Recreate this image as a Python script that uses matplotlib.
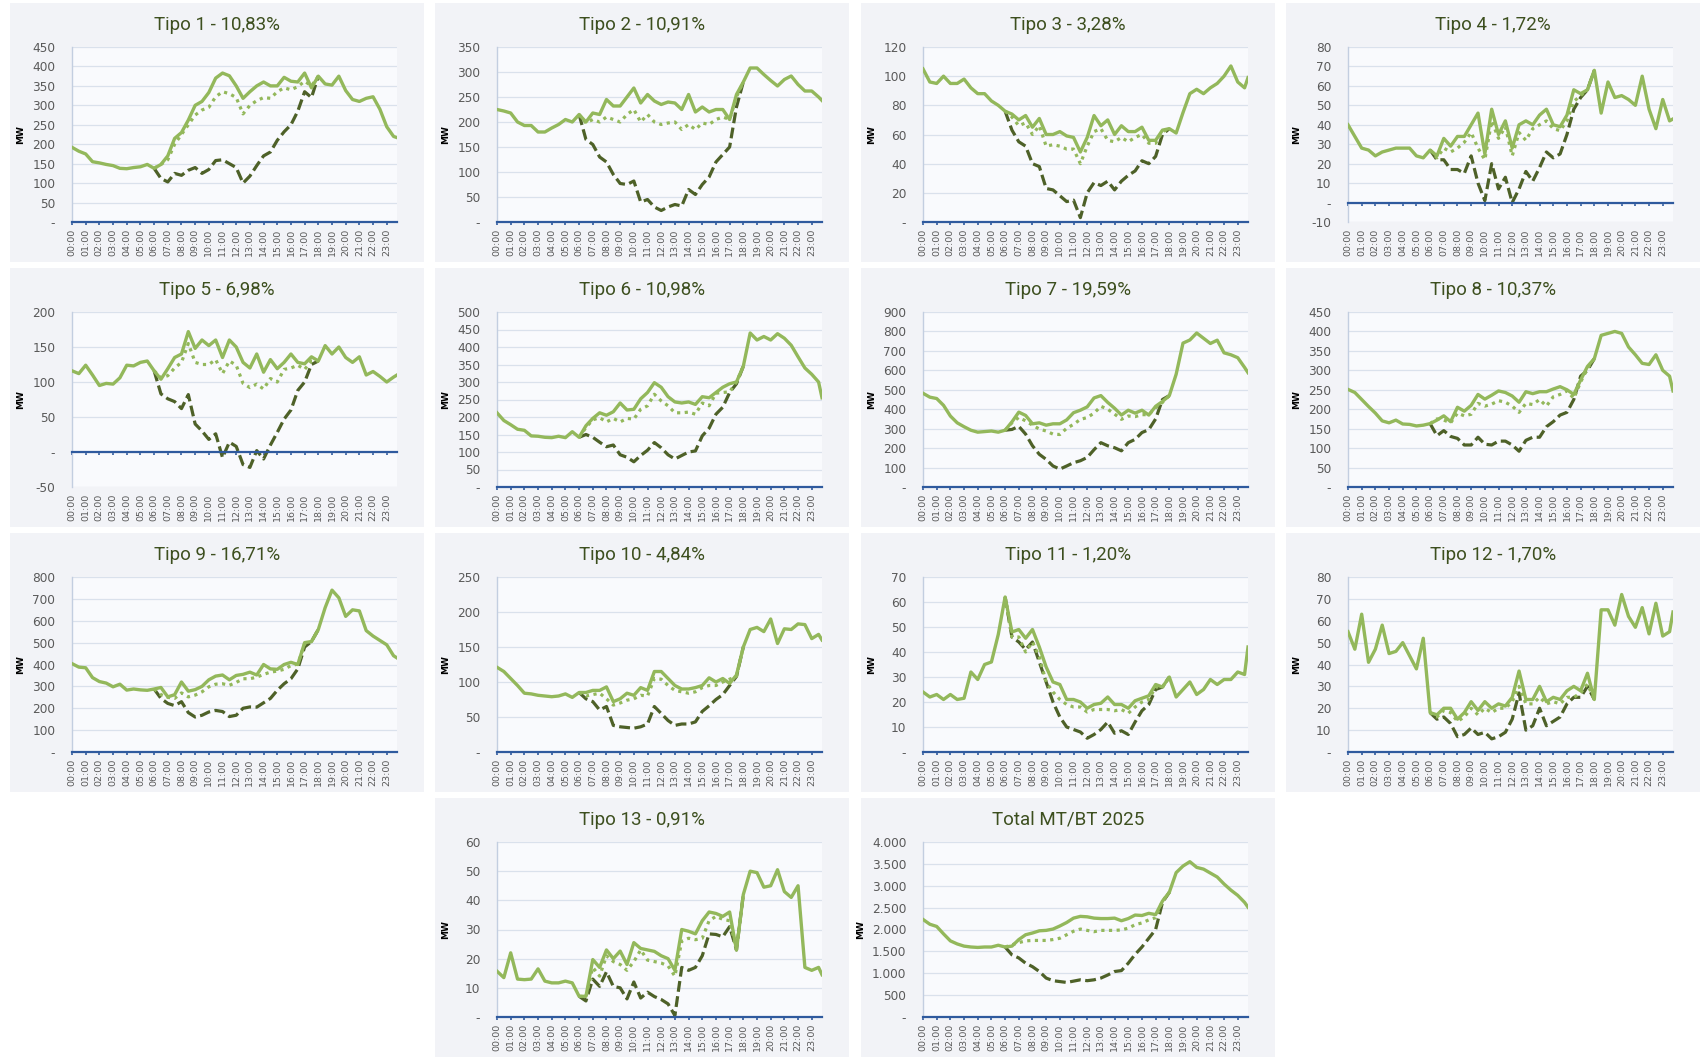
import numpy as np
import matplotlib
matplotlib.use('Agg')
from matplotlib import pyplot as plt
from matplotlib.patches import Rectangle
from matplotlib.ticker import FuncFormatter

plt.rcParams['font.family'] = ['DejaVu Sans']

# half-hour samples plus the last 23:45 point (hours)
hours = np.append(np.arange(0, 24, 0.5), 23.75)
# window where the three scenarios differ: 06:00 .. 18:00
day_hours = np.arange(6, 18.25, 0.5)
tick_hours = np.arange(24)
tick_labels = [f'{h:02d}:00' for h in tick_hours]

titles = [
    'Tipo 1 - 10,83%', 'Tipo 2 - 10,91%', 'Tipo 3 - 3,28%', 'Tipo 4 - 1,72%',
    'Tipo 5 - 6,98%', 'Tipo 6 - 10,98%', 'Tipo 7 - 19,59%', 'Tipo 8 - 10,37%',
    'Tipo 9 - 16,71%', 'Tipo 10 - 4,84%', 'Tipo 11 - 1,20%', 'Tipo 12 - 1,70%',
    'Tipo 13 - 0,91%', 'Total MT/BT 2025',
]
# (min, max, step) of each y axis
y_axes = [
    (0, 450, 50), (0, 350, 50), (0, 120, 20), (-10, 80, 10),
    (-50, 200, 50), (0, 500, 50), (0, 900, 100), (0, 450, 50),
    (0, 800, 100), (0, 250, 50), (0, 70, 10), (0, 80, 10),
    (0, 60, 10), (0, 4000, 500),
]

# full day curves (49 values) and daytime scenarios (25 values, 06:00-18:00)
t1_line = [192, 182, 175, 155, 152, 148, 145, 138, 137, 140, 142, 148,
           138, 148, 170, 215, 230, 262, 300, 310, 333, 370, 383, 376,
           350, 318, 335, 350, 360, 350, 350, 372, 362, 360, 383, 345,
           375, 355, 352, 375, 338, 315, 310, 318, 322, 290, 245, 220, 217]
t1_dot = [138, 148, 160, 200, 225, 250, 275, 288, 295, 322, 335, 330, 320,
          278, 300, 312, 320, 318, 335, 345, 340, 348, 362, 350, 375]
t1_dash = [138, 112, 103, 125, 120, 133, 140, 125, 135, 158, 160, 150, 140,
           100, 118, 145, 170, 180, 210, 232, 250, 285, 335, 320, 375]

t2_line = [225, 222, 218, 200, 193, 193, 180, 180, 188, 195, 205, 200,
           215, 200, 218, 215, 245, 232, 232, 250, 268, 238, 255, 242,
           235, 240, 238, 225, 255, 220, 230, 220, 225, 225, 205, 255,
           280, 308, 308, 295, 283, 272, 285, 292, 275, 262, 262, 250, 243]
t2_dot = [215, 198, 205, 200, 210, 205, 200, 215, 225, 200, 215, 200, 195,
          198, 200, 185, 195, 185, 198, 195, 205, 210, 205, 250, 280]
t2_dash = [215, 165, 155, 130, 120, 95, 77, 75, 82, 40, 45, 30, 23,
           30, 35, 32, 65, 55, 75, 90, 120, 135, 150, 230, 280]

t3_line = [105, 96, 95, 100, 95, 95, 98, 92, 88, 88, 83, 80,
           76, 74, 70, 73, 65, 71, 60, 60, 62, 59, 58, 48,
           58, 73, 66, 70, 60, 66, 62, 62, 65, 56, 56, 63,
           64, 61, 75, 88, 91, 88, 92, 95, 100, 107, 96, 92, 99]
t3_dot = [76, 72, 66, 68, 60, 66, 52, 53, 52, 50, 50, 40, 52,
          62, 64, 56, 55, 58, 55, 58, 60, 54, 54, 62, 64]
t3_dash = [76, 63, 55, 52, 40, 38, 23, 22, 18, 14, 15, 3, 20,
           27, 25, 28, 22, 28, 32, 35, 42, 40, 45, 60, 64]

t4_line = [40, 34, 28, 27, 24, 26, 27, 28, 28, 28, 24, 23,
           27, 24, 33, 29, 34, 34, 40, 46, 25, 48, 35, 42,
           28, 40, 42, 40, 45, 48, 40, 39, 45, 58, 56, 58,
           68, 46, 62, 54, 55, 53, 50, 65, 48, 38, 53, 42, 43]
t4_dot = [27, 23, 28, 26, 28, 31, 36, 28, 22, 42, 33, 39, 24,
          36, 32, 38, 40, 42, 38, 37, 42, 52, 55, 58, 68]
t4_dash = [27, 22, 22, 17, 17, 15, 24, 10, 1, 20, 7, 13, 0,
           7, 16, 11, 18, 26, 23, 25, 35, 48, 54, 58, 68]

t5_line = [116, 112, 124, 110, 95, 98, 97, 106, 124, 123, 128, 130,
           116, 104, 119, 135, 140, 172, 148, 160, 152, 160, 135, 160,
           150, 128, 120, 140, 114, 132, 119, 128, 140, 128, 126, 136,
           130, 152, 140, 150, 135, 128, 136, 110, 115, 108, 100, 107, 110]
t5_dot = [116, 106, 109, 120, 128, 155, 128, 125, 125, 132, 112, 130, 124,
          98, 92, 97, 90, 105, 100, 118, 120, 124, 118, 130, 130]
t5_dash = [116, 83, 76, 72, 62, 82, 40, 30, 18, 26, -8, 14, 8,
           -18, -22, 2, -10, 10, 28, 47, 60, 88, 100, 125, 130]

t6_line = [212, 190, 178, 165, 162, 146, 145, 142, 141, 145, 141, 158,
           142, 175, 196, 212, 205, 215, 240, 220, 222, 252, 270, 298,
           285, 258, 243, 240, 243, 236, 258, 255, 270, 285, 295, 300,
           345, 440, 420, 430, 420, 438, 425, 405, 372, 340, 322, 300, 255]
t6_dot = [142, 170, 192, 198, 186, 196, 186, 196, 194, 222, 232, 265, 246,
          232, 212, 212, 214, 208, 240, 232, 268, 270, 272, 300, 345]
t6_dash = [142, 150, 142, 128, 115, 120, 92, 85, 72, 90, 105, 127, 112,
           92, 80, 90, 100, 103, 146, 168, 208, 228, 270, 295, 345]

t7_line = [482, 462, 455, 420, 365, 330, 310, 292, 282, 285, 288, 282,
           292, 335, 385, 368, 325, 330, 318, 325, 325, 345, 382, 395,
           412, 458, 470, 435, 405, 370, 395, 380, 395, 370, 415, 440,
           470, 580, 740, 756, 792, 765, 738, 755, 690, 680, 665, 615, 588]
t7_dot = [292, 330, 358, 340, 318, 298, 288, 272, 270, 302, 322, 348, 357,
          380, 415, 400, 375, 348, 365, 362, 372, 372, 408, 435, 470]
t7_dash = [292, 296, 312, 272, 212, 168, 142, 108, 92, 108, 125, 135, 152,
           192, 228, 212, 202, 186, 228, 245, 280, 295, 350, 450, 470]

t8_line = [251, 243, 225, 207, 190, 170, 165, 172, 162, 161, 157, 159,
           163, 172, 183, 168, 205, 195, 210, 238, 226, 236, 247, 243,
           234, 218, 245, 240, 245, 245, 252, 258, 250, 238, 275, 310,
           330, 390, 395, 400, 395, 360, 340, 318, 315, 340, 300, 285, 247]
t8_dot = [163, 175, 172, 165, 190, 183, 187, 215, 208, 213, 222, 218, 208,
          192, 215, 212, 225, 208, 232, 238, 247, 228, 270, 305, 330]
t8_dash = [163, 132, 145, 130, 125, 108, 108, 128, 110, 108, 118, 118, 108,
           92, 120, 128, 128, 155, 168, 185, 192, 225, 285, 300, 330]

t9_line = [404, 388, 385, 340, 322, 315, 298, 310, 283, 288, 284, 282,
           288, 295, 252, 262, 320, 278, 285, 300, 330, 347, 352, 330,
           350, 355, 365, 352, 400, 380, 378, 400, 410, 400, 500, 505,
           560, 660, 740, 705, 620, 650, 645, 555, 530, 510, 490, 440, 430]
t9_dot = [288, 262, 250, 245, 270, 252, 260, 275, 298, 310, 312, 305, 318,
          335, 335, 342, 355, 365, 370, 378, 395, 402, 495, 505, 560]
t9_dash = [288, 245, 222, 212, 230, 180, 160, 168, 183, 190, 185, 162, 168,
           200, 206, 205, 225, 245, 282, 312, 335, 380, 480, 505, 560]

t10_line = [121, 115, 105, 95, 84, 83, 81, 80, 79, 80, 83, 78,
            85, 85, 88, 88, 93, 72, 76, 84, 81, 92, 88, 115,
            115, 105, 95, 90, 90, 92, 95, 106, 100, 105, 98, 110,
            150, 175, 178, 172, 190, 155, 176, 175, 183, 182, 162, 168, 160]
t10_dot = [85, 80, 82, 84, 76, 67, 70, 74, 76, 81, 80, 105, 104,
           95, 88, 86, 84, 86, 92, 95, 95, 100, 104, 108, 150]
t10_dash = [85, 76, 72, 60, 65, 38, 36, 35, 34, 36, 40, 65, 55,
            45, 38, 40, 40, 43, 58, 66, 75, 82, 95, 108, 150]

t11_line = [24, 22, 23, 21, 23, 21, 21.5, 32, 29, 35, 36, 47,
            62, 48, 49, 45.5, 49, 42, 34, 28, 27, 21, 21, 20,
            17.5, 19, 19.5, 22, 19, 19, 17.5, 20.5, 21.5, 22.5, 27, 26,
            30, 22, 25, 28, 23, 25, 29, 27, 29, 29, 32, 31, 42]
t11_dot = [62, 46, 46, 40, 44, 38, 28, 24, 21, 19, 18, 18, 16,
           17, 17, 17, 16.5, 17, 15.5, 18, 20, 21, 26, 26, 30]
t11_dash = [62, 46, 44, 41, 44, 36, 28, 20, 14, 10, 9, 8, 5.5,
            7, 9, 12, 7.5, 8.5, 7, 12, 16.5, 19, 25, 26, 30]

t12_line = [55, 47, 63, 41, 47, 58, 45, 46, 50, 44, 38, 52,
            18, 17, 20, 20, 15, 18, 23, 19, 23, 20, 22, 21,
            25, 37, 24, 24, 30, 23, 25, 24, 28, 30, 28, 36,
            24, 65, 65, 58, 72, 62, 57, 66, 54, 68, 53, 55, 64]
t12_dot = [18, 16, 19, 18, 14, 16, 20, 17, 20, 18, 20, 20, 23,
           30, 22, 22, 25, 22, 23, 22, 25, 25, 27, 31, 24]
t12_dash = [18, 15, 16, 13, 7, 8, 11, 8, 9, 6, 7, 9, 15,
            27, 10, 12, 20, 12, 14, 16, 22, 25, 25, 30, 24]

t13_line = [15.7, 13.5, 22, 13, 12.8, 13, 16.5, 12.3, 11.7, 11.7, 12.3, 11.7,
            7.1, 7.1, 19.7, 17, 23, 20, 22.6, 18, 25.5, 23.5, 23, 22.5,
            21, 20, 16, 30, 29.4, 28.5, 33, 36, 35.5, 34.5, 36, 23,
            42, 50, 49.5, 44.5, 45, 50.5, 43, 41, 45, 17, 16, 17, 14.5]
t13_dot = [7.1, 7, 17, 14, 21, 19, 18, 16, 19, 23, 19.5, 19, 18.5,
           17.5, 14, 26, 27, 26.5, 27, 33, 34.5, 33.5, 33, 23, 42]
t13_dash = [7.1, 5.5, 13, 10.5, 15.5, 10.5, 10, 6.2, 12, 6.5, 8.5, 7, 6,
            4.5, 0.5, 17, 16, 17, 21, 28.5, 28.3, 27.5, 31, 23, 42]

total_line = [2230, 2120, 2070, 1900, 1740, 1670, 1620, 1600, 1590, 1600, 1600, 1640,
              1600, 1620, 1770, 1880, 1920, 1970, 1980, 2010, 2080, 2160, 2260, 2300,
              2290, 2260, 2250, 2250, 2260, 2200, 2250, 2330, 2320, 2370, 2340, 2650,
              2850, 3300, 3450, 3550, 3420, 3380, 3290, 3200, 3040, 2900, 2780, 2620, 2510]
total_dot = [1600, 1650, 1700, 1740, 1750, 1750, 1750, 1770, 1800, 1880, 1960, 2010, 1980,
             1950, 1980, 1980, 1980, 1990, 2030, 2110, 2150, 2220, 2270, 2650, 2850]
total_dash = [1600, 1420, 1350, 1230, 1150, 1040, 890, 830, 810, 790, 820, 850, 830,
              850, 890, 960, 1040, 1060, 1230, 1430, 1600, 1800, 2000, 2620, 2850]

series = [
    (t1_line, t1_dot, t1_dash), (t2_line, t2_dot, t2_dash),
    (t3_line, t3_dot, t3_dash), (t4_line, t4_dot, t4_dash),
    (t5_line, t5_dot, t5_dash), (t6_line, t6_dot, t6_dash),
    (t7_line, t7_dot, t7_dash), (t8_line, t8_dot, t8_dash),
    (t9_line, t9_dot, t9_dash), (t10_line, t10_dot, t10_dash),
    (t11_line, t11_dot, t11_dash), (t12_line, t12_dot, t12_dash),
    (t13_line, t13_dot, t13_dash), (total_line, total_dot, total_dash),
]

# grid slot (row, col) for each panel
slots = [(r, c) for r in range(3) for c in range(4)] + [(3, 1), (3, 2)]

W, H = 1704, 1057
COL_X = [10, 435, 861, 1286]
ROW_Y = [3, 268, 533, 798]
PANEL_W, PANEL_H = 414, 259

PANEL_BG = '#f2f3f7'
PLOT_BG = '#f9fafd'
GRID_C = '#dae1ec'
SPINE_C = '#c3cee0'
AXIS_BLUE = '#2f5a9e'
LIGHT_GREEN = '#93b85b'
DARK_GREEN = '#4e6128'
TITLE_C = '#3d4f1f'
TICK_C = '#595959'


def fmt_value(v, pos=None):
    if abs(v) < 1e-9:
        return '-'
    return f'{v:,.0f}'.replace(',', '.')


fig = plt.figure(figsize=(W / 100, H / 100), dpi=100)

for i, (title, (ymin, ymax, step), (line, dot, dash)) in enumerate(zip(titles, y_axes, series)):
    r, c = slots[i]
    px, py = COL_X[c], ROW_Y[r]

    fig.add_artist(Rectangle((px / W, 1 - (py + PANEL_H) / H), PANEL_W / W, PANEL_H / H,
                             transform=fig.transFigure, facecolor=PANEL_BG,
                             edgecolor='none', zorder=-5))
    fig.text((px + PANEL_W / 2) / W, 1 - (py + 22) / H, title, ha='center', va='center',
             fontsize=13.5, family=['Roboto', 'DejaVu Sans'], color=TITLE_C)

    ax_x, ax_y, ax_w, ax_h = px + 62, py + 44, 325, 175
    ax = fig.add_axes([ax_x / W, 1 - (ax_y + ax_h) / H, ax_w / W, ax_h / H])
    ax.set_facecolor(PLOT_BG)

    ax.plot(day_hours, dash, color=DARK_GREEN, lw=2.3, ls=(0, (3.4, 1.4)), zorder=3)
    ax.plot(day_hours, dot, color=LIGHT_GREEN, lw=2.3, ls=(0, (1, 1.4)), zorder=3)
    ax.plot(hours, line, color=LIGHT_GREEN, lw=2.4, zorder=4, solid_joinstyle='round')

    ax.set_xlim(0, 23.75)
    ax.set_ylim(ymin, ymax)
    ax.set_yticks(np.arange(ymin, ymax + step / 2, step))
    ax.yaxis.set_major_formatter(FuncFormatter(fmt_value))
    ax.tick_params(axis='y', length=0, pad=12, labelsize=8.7, labelcolor=TICK_C)
    ax.grid(axis='y', color=GRID_C, lw=0.9)
    ax.set_axisbelow(True)

    for side in ('top', 'right'):
        ax.spines[side].set_visible(False)
    ax.spines['left'].set_color(SPINE_C)
    ax.spines['left'].set_linewidth(1.0)
    ax.spines['bottom'].set_position(('data', 0))
    ax.spines['bottom'].set_color(AXIS_BLUE)
    ax.spines['bottom'].set_linewidth(1.6)
    ax.spines['bottom'].set_zorder(5)

    ax.set_xticks(tick_hours)
    ax.tick_params(axis='x', labelbottom=False, length=2.5, width=1.2,
                   color=AXIS_BLUE, direction='out')

    # hour labels stay at the bottom of the plot area
    sec = ax.secondary_xaxis('bottom')
    sec.set_xticks(tick_hours, labels=tick_labels)
    sec.tick_params(length=0, pad=5, labelsize=6.8, labelrotation=90, labelcolor=TICK_C)
    sec.spines['bottom'].set_visible(False)

    ax.set_ylabel('MW', fontsize=6.5, fontweight='bold', color='black')
    # wide thousand labels on the total panel: keep MW clear of them
    label_x = -0.178 if ymax >= 1000 else -0.145
    ax.yaxis.set_label_coords(label_x, 0.5)

fig.savefig('out.png', dpi=100, facecolor='white')
